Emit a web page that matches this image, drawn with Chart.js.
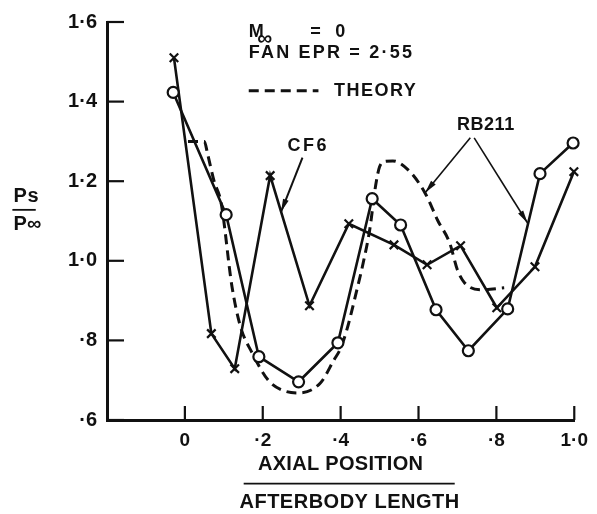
<!DOCTYPE html>
<html><head><meta charset="utf-8">
<script src="https://cdn.jsdelivr.net/npm/chart.js@4/dist/chart.umd.min.js"></script>
<style>html,body{margin:0;padding:0;background:#fff}</style>
</head><body>
<canvas id="c" width="597" height="514" style="display:block;width:597px;height:514px"></canvas>
<script>
// ---- data ----
const xTickValues = [0, 0.2, 0.4, 0.6, 0.8, 1.0];
const xTickLabels = ['0', '·2', '·4', '·6', '·8', '1·0'];
const yTickValues = [0.6, 0.8, 1.0, 1.2, 1.4, 1.6];
const yTickLabels = ['·6', '·8', '1·0', '1·2', '1·4', '1·6'];

// open-circle series
const circleX = [-0.03, 0.106, 0.19, 0.292, 0.393, 0.481, 0.554, 0.645, 0.728, 0.829, 0.912, 0.997];
const circleY = [1.423, 1.116, 0.759, 0.696, 0.794, 1.156, 1.09, 0.877, 0.774, 0.879, 1.219, 1.296];

// cross series
const crossX = [-0.028, 0.068, 0.128, 0.219, 0.32, 0.421, 0.537, 0.622, 0.708, 0.801, 0.899, 0.999];
const crossY = [1.51, 0.817, 0.729, 1.214, 0.887, 1.093, 1.04, 0.99, 1.038, 0.882, 0.985, 1.224];

// theory (dashed)
const theoryX = [0.008, 0.05, 0.058, 0.075, 0.093, 0.121, 0.143, 0.172, 0.214, 0.25, 0.29, 0.348, 0.383, 0.40, 0.416, 0.44, 0.458, 0.475, 0.49, 0.50, 0.515, 0.534, 0.574, 0.617, 0.65, 0.68, 0.70, 0.718, 0.76, 0.82];
const theoryY = [1.30, 1.30, 1.27, 1.20, 1.146, 0.935, 0.834, 0.77, 0.70, 0.675, 0.668, 0.693, 0.751, 0.78, 0.827, 0.92, 0.995, 1.08, 1.19, 1.236, 1.25, 1.251, 1.228, 1.17, 1.10, 1.045, 0.977, 0.945, 0.927, 0.932];

const toPts = (xs, ys) => xs.map((x, i) => ({x, y: ys[i]}));

const FONT = '"Liberation Sans", Arial, sans-serif';
const INK = '#111';

const decor = {
  id: 'decor',
  afterDraw(chart) {
    const ctx = chart.ctx, xs = chart.scales.x, ys = chart.scales.y, a = chart.chartArea;
    const X = v => xs.getPixelForValue(v), Y = v => ys.getPixelForValue(v);
    ctx.save();
    ctx.strokeStyle = INK; ctx.fillStyle = INK; ctx.lineCap = 'butt';
    // inward ticks
    ctx.lineWidth = 2.2;
    yTickValues.forEach(v => { ctx.beginPath(); ctx.moveTo(a.left, Y(v)); ctx.lineTo(a.left + 17, Y(v)); ctx.stroke(); });
    xTickValues.forEach(v => { ctx.beginPath(); ctx.moveTo(X(v), a.bottom); ctx.lineTo(X(v), a.bottom - 14); ctx.stroke(); });

    const text = (s, x, y, size, align, ls) => {
      ctx.font = 'bold ' + size + 'px ' + FONT;
      ctx.letterSpacing = (ls || 0) + 'px';
      ctx.textAlign = align || 'left';
      ctx.textBaseline = 'middle';
      ctx.fillText(s, x, y);
    };
    // legend block
    text('M', X(0.164), Y(1.574), 18, 'left', 0);
    text('∞', X(0.186), Y(1.556), 21, 'left', 0);
    text('=  0', X(0.322), Y(1.574), 18, 'left', 1.5);
    text('FAN EPR = 2·55', X(0.164), Y(1.523), 18, 'left', 2.2);
    ctx.lineWidth = 3; ctx.setLineDash([10, 6]);
    ctx.beginPath(); ctx.moveTo(X(0.164), Y(1.427)); ctx.lineTo(X(0.343), Y(1.427)); ctx.stroke();
    ctx.setLineDash([]);
    text('THEORY', X(0.383), Y(1.427), 18, 'left', 1.5);

    // series labels and arrows
    text('CF6', X(0.317), Y(1.289), 18, 'center', 2.5);
    text('RB211', X(0.773), Y(1.342), 18, 'center', 0.5);
    const arrow = (x1, y1, x2, y2, w) => {
      const p1 = [X(x1), Y(y1)], p2 = [X(x2), Y(y2)];
      ctx.lineWidth = w; ctx.beginPath(); ctx.moveTo(p1[0], p1[1]); ctx.lineTo(p2[0], p2[1]); ctx.stroke();
      const ang = Math.atan2(p2[1] - p1[1], p2[0] - p1[0]), L = 13, H = 3;
      ctx.beginPath();
      ctx.moveTo(p2[0], p2[1]);
      ctx.lineTo(p2[0] - L * Math.cos(ang) + H * Math.sin(ang), p2[1] - L * Math.sin(ang) - H * Math.cos(ang));
      ctx.lineTo(p2[0] - L * Math.cos(ang) - H * Math.sin(ang), p2[1] - L * Math.sin(ang) + H * Math.cos(ang));
      ctx.closePath(); ctx.fill();
    };
    arrow(0.302, 1.259, 0.247, 1.123, 2);
    arrow(0.733, 1.309, 0.617, 1.171, 1.6);
    arrow(0.743, 1.309, 0.88, 1.095, 1.6);

    // y-axis title Ps / P∞
    text('Ps', X(-0.44), Y(1.161), 20, 'left', 0.5);
    ctx.lineWidth = 1.8;
    ctx.beginPath(); ctx.moveTo(X(-0.443), Y(1.128)); ctx.lineTo(X(-0.383), Y(1.128)); ctx.stroke();
    text('P∞', X(-0.44), Y(1.09), 20, 'left', 0);

    // x-axis title as a fraction
    text('AXIAL POSITION', X(0.40), Y(0.487), 20, 'center', 0.3);
    ctx.lineWidth = 1.8;
    ctx.beginPath(); ctx.moveTo(X(0.151), Y(0.44)); ctx.lineTo(X(0.693), Y(0.44)); ctx.stroke();
    text('AFTERBODY LENGTH', X(0.423), Y(0.394), 20, 'center', 0.5);
    ctx.restore();
  }
};

new Chart(document.getElementById('c'), {
  type: 'scatter',
  data: {
    datasets: [
      { label: 'Theory', data: toPts(theoryX, theoryY), showLine: true, borderColor: INK, borderWidth: 3,
        borderDash: [10, 6], pointRadius: 0, cubicInterpolationMode: 'monotone', clip: false, order: 3 },
      { label: 'Crosses', data: toPts(crossX, crossY), showLine: true, borderColor: INK, borderWidth: 2.6,
        pointStyle: 'crossRot', pointRadius: 6, pointBorderWidth: 2.2, pointBorderColor: INK, tension: 0, clip: false, order: 2 },
      { label: 'Circles', data: toPts(circleX, circleY), showLine: true, borderColor: INK, borderWidth: 2.6,
        pointStyle: 'circle', pointRadius: 5.5, pointBackgroundColor: '#fff', pointBorderColor: INK, pointBorderWidth: 2.2,
        tension: 0, clip: false, order: 1 }
    ]
  },
  options: {
    responsive: false, animation: false, devicePixelRatio: 1,
    layout: { padding: { left: 0, top: 20, right: 15, bottom: 0 } },
    plugins: { legend: { display: false }, tooltip: { enabled: false } },
    scales: {
      x: {
        type: 'linear', min: -0.2, max: 1.0,
        afterBuildTicks: s => { s.ticks = xTickValues.map(v => ({value: v})); },
        afterFit: s => { s.height = 94; },
        grid: { display: false, drawTicks: false },
        border: { display: true, color: INK, width: 3 },
        ticks: { color: INK, font: { family: FONT, size: 19, weight: 'bold' }, padding: 9, maxRotation: 0, autoSkip: false,
          callback: (v, i) => xTickLabels[i] }
      },
      y: {
        type: 'linear', min: 0.6, max: 1.6,
        afterBuildTicks: s => { s.ticks = yTickValues.map(v => ({value: v})); },
        afterFit: s => { s.width = 107; },
        grid: { display: false, drawTicks: false },
        border: { display: true, color: INK, width: 3 },
        ticks: { color: INK, font: { family: FONT, size: 20, weight: 'bold' }, padding: 10, autoSkip: false,
          callback: (v, i) => yTickLabels[i] }
      }
    }
  },
  plugins: [decor]
});
</script>
</body></html>
